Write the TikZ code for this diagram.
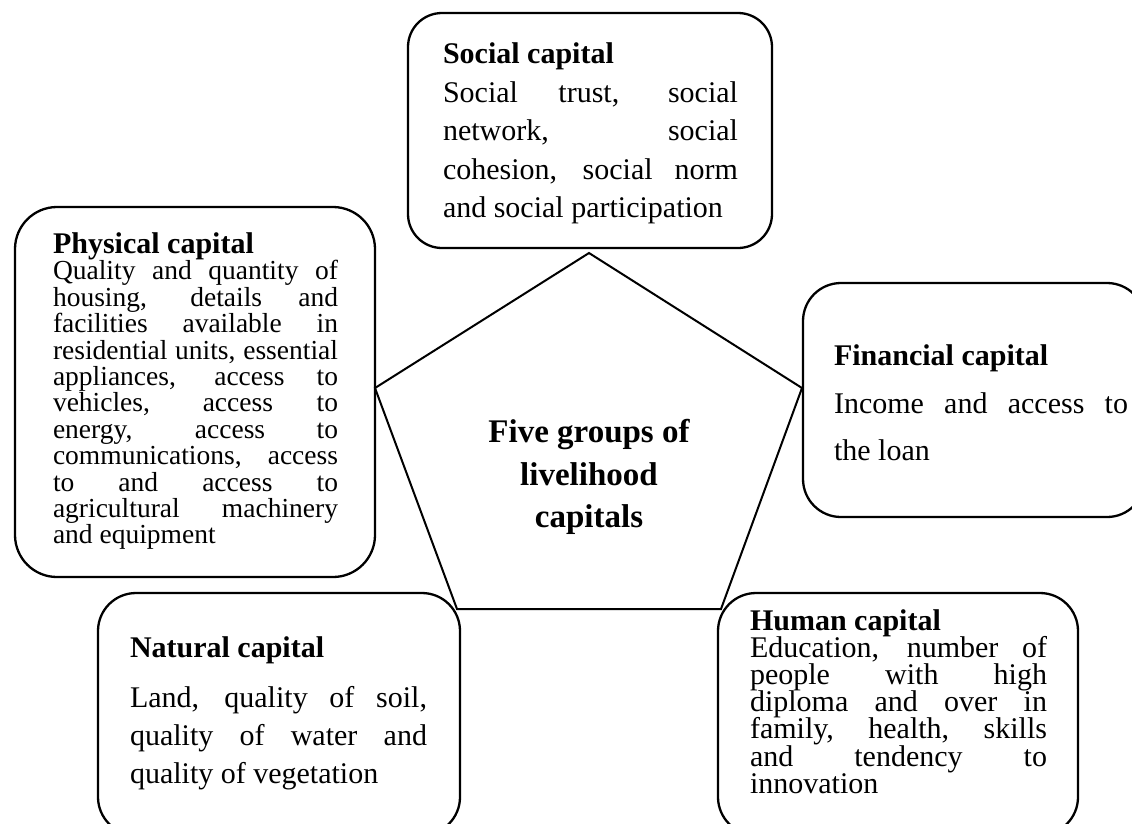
\documentclass[tikz,border=0pt]{standalone}
\usepackage{fontspec}
\setmainfont{Liberation Serif}
\tikzset{
  capbox/.style={draw, line width=2.3pt, rounded corners=#1, inner sep=0pt},
  capbox/.default=38pt,
  captext/.style={anchor=base west, inner sep=0pt, outer sep=0pt},
  pentline/.style={draw, line width=2pt, line join=miter},
  corelabel/.style={font=\fontsize{33}{42.5}\selectfont\bfseries, align=center, inner sep=0pt}
}
% #1 width, #2 body size, #3 extra gap after heading, #4 body baselineskip, #5 heading, #6 body
\newcommand\mycaptext[6]{\parbox[t]{#1}{\lineskiplimit=-100pt\hyphenpenalty=10000\exhyphenpenalty=10000\pretolerance=-1\tolerance=10000\fontsize{30}{30}\selectfont\textbf{#5}\par\vspace{#3}\fontsize{#2}{#4}\selectfont #6\par}}
\begin{document}
\begin{tikzpicture}[x=1pt,y=-1pt]
\useasboundingbox (0,0) rectangle (1132,823);
\clip (0,0) rectangle (1132,823);
\fill[white] (0,0) rectangle (1132,823);

% boxes
\node[capbox=34pt, minimum width=364pt, minimum height=235pt] (socialbox) at (590,130.5) {};
\node[capbox=42pt, minimum width=360pt, minimum height=370pt] (physbox) at (195,392) {};
\node[capbox=38pt, minimum width=342pt, minimum height=234pt] (finbox) at (974,400) {};
\node[capbox=38pt, minimum width=362pt, minimum height=242pt] (natbox) at (279,714) {};
\node[capbox=38pt, minimum width=360pt, minimum height=242pt] (humbox) at (898,714) {};

% texts
\node[captext] (socialtext) at (443,63) {\mycaptext{295pt}{30}{0.5pt}{38.5pt}{Social capital}{Social trust, social\linebreak network, social\linebreak cohesion, social norm\linebreak and social participation}};
\node[captext] (phystext) at (53,253) {\mycaptext{285pt}{27.5}{0.5pt}{26.4pt}{Physical capital}{Quality and quantity of\linebreak housing, details and\linebreak facilities available in\linebreak residential units, essential\linebreak appliances, access to\linebreak vehicles, access to\linebreak energy, access to\linebreak communications, access\linebreak to and access to\linebreak agricultural machinery\linebreak and equipment}};
\node[captext] (fintext) at (834,365) {\mycaptext{294pt}{30}{1pt}{47pt}{Financial capital}{Income and access to\linebreak the loan}};
\node[captext] (nattext) at (130,657) {\mycaptext{297pt}{30}{12pt}{38pt}{Natural capital}{Land, quality of soil,\linebreak quality of water and\linebreak quality of vegetation}};
\node[captext] (humtext) at (750,630) {\mycaptext{297pt}{30}{0pt}{27.2pt}{Human capital}{Education, number of\linebreak people with high\linebreak diploma and over in\linebreak family, health, skills\linebreak and tendency to\linebreak innovation}};

% pentagon
\coordinate (ptop) at (589,253);
\coordinate (pleft) at (375,388);
\coordinate (pright) at (802,388);
\coordinate (pbl) at (457,609);
\coordinate (pbr) at (721,609);
\draw[pentline] (ptop) -- (pright) -- (pbr) -- (pbl) -- (pleft) -- cycle;
\node[corelabel] (core) at (589,477) {Five groups of\\livelihood\\capitals};
\end{tikzpicture}
\end{document}
